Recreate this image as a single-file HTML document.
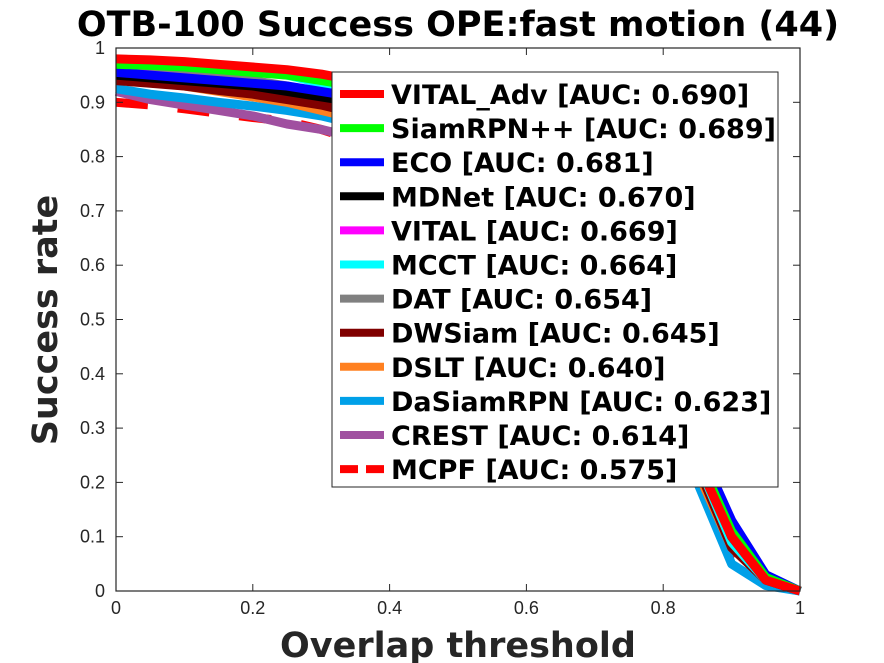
<!DOCTYPE html>
<html><head><meta charset="utf-8"><style>
body{margin:0;background:#fff;}
svg{display:block;font-family:"Liberation Sans","DejaVu Sans",sans-serif;}
</style></head><body>
<svg id="chart" width="884" height="663" xmlns="http://www.w3.org/2000/svg">
<rect width="884" height="663" fill="#fff"/>
<text x="458" y="36" text-anchor="middle" font-size="35" font-weight="bold" fill="#000" font-family="DejaVu Sans, sans-serif">OTB-100 Success OPE:fast motion (44)</text>
<g id="plot"></g>
<text x="458" y="657" text-anchor="middle" font-size="35" font-weight="bold" fill="#262626" font-family="DejaVu Sans, sans-serif">Overlap threshold</text>
<text transform="translate(57,320) rotate(-90)" text-anchor="middle" font-size="35" font-weight="bold" fill="#262626" font-family="DejaVu Sans, sans-serif">Success rate</text>
</svg>
<script>
const thresholds=[0,.05,.1,.15,.2,.25,.3,.35,.4,.45,.5,.55,.6,.65,.7,.75,.8,.85,.9,.95,1];
const seriesNames=["VITAL_Adv [AUC: 0.690]","SiamRPN++ [AUC: 0.689]","ECO [AUC: 0.681]","MDNet [AUC: 0.670]","VITAL [AUC: 0.669]","MCCT [AUC: 0.664]","DAT [AUC: 0.654]","DWSiam [AUC: 0.645]","DSLT [AUC: 0.640]","DaSiamRPN [AUC: 0.623]","CREST [AUC: 0.614]","MCPF [AUC: 0.575]"];
const seriesColors=["#ff0000","#00ff00","#0000ff","#000000","#ff00ff","#00ffff","#808080","#800000","#ff8020","#00a0e8","#a050a0","#ff0000"];
const vitalAdv=[.98,.978,.975,.97,.965,.96,.952,.94,.93,.915,.895,.87,.83,.78,.70,.58,.42,.24,.10,.02,0];
const siamrpnpp=[.97,.968,.965,.96,.955,.95,.94,.93,.915,.9,.88,.85,.81,.76,.68,.57,.42,.25,.11,.025,0];
const eco=[.955,.95,.945,.94,.935,.93,.92,.91,.9,.885,.865,.84,.80,.75,.68,.57,.43,.27,.13,.03,0];
const mdnet=[.95,.945,.94,.935,.93,.92,.91,.9,.885,.87,.85,.82,.78,.73,.66,.55,.41,.25,.10,.02,0];
const vital=[.955,.95,.945,.94,.933,.925,.915,.905,.89,.87,.85,.82,.78,.73,.66,.55,.41,.25,.10,.02,0];
const mcct=[.975,.972,.968,.963,.957,.95,.935,.92,.905,.89,.87,.84,.80,.75,.67,.56,.41,.24,.09,.02,0];
const dat=[.965,.96,.955,.948,.94,.93,.915,.90,.885,.87,.85,.82,.78,.72,.65,.54,.40,.24,.09,.02,0];
const dwsiam=[.94,.935,.93,.922,.915,.905,.895,.88,.865,.85,.83,.80,.76,.71,.64,.53,.39,.23,.08,.02,0];
const dslt=[.945,.937,.93,.92,.91,.9,.885,.87,.855,.84,.82,.79,.75,.70,.63,.52,.38,.22,.08,.02,0];
const dasiam=[.925,.915,.908,.9,.893,.885,.875,.86,.845,.83,.81,.78,.74,.69,.61,.50,.36,.20,.05,.01,0];
const crest=[.92,.905,.895,.885,.875,.86,.85,.835,.82,.80,.78,.75,.71,.66,.59,.49,.36,.21,.08,.02,0];
const mcpf=[.90,.895,.888,.88,.872,.865,.85,.83,.81,.79,.77,.74,.70,.65,.58,.47,.34,.20,.07,.015,0];
const xTicks=[0,0.2,0.4,0.6,0.8,1];
const xTickLabels=["0","0.2","0.4","0.6","0.8","1"];
const yTicks=[0,0.1,0.2,0.3,0.4,0.5,0.6,0.7,0.8,0.9,1];
const yTickLabels=["0","0.1","0.2","0.3","0.4","0.5","0.6","0.7","0.8","0.9","1"];
const allSeries=[vitalAdv,siamrpnpp,eco,mdnet,vital,mcct,dat,dwsiam,dslt,dasiam,crest,mcpf];

const L=116,R=800,T=48,B=591;
const xs=v=>L+v*(R-L);
const ys=v=>B-v*(B-T);
const NS="http://www.w3.org/2000/svg";
const g=document.getElementById('plot');
function mk(tag,attrs){const e=document.createElementNS(NS,tag);for(const k in attrs)e.setAttribute(k,attrs[k]);g.appendChild(e);return e;}

for(let i=allSeries.length-1;i>=0;i--){
  const d=allSeries[i].map((v,j)=>(j?'L':'M')+xs(thresholds[j]).toFixed(1)+' '+ys(v).toFixed(1)).join(' ');
  const p=mk('path',{d:d,fill:'none',stroke:seriesColors[i],'stroke-width':9,'stroke-linejoin':'round'});
  if(i===11)p.setAttribute('stroke-dasharray','32 30');
  
  
}
const fr=mk('rect',{x:L,y:T,width:R-L,height:B-T,fill:'none',stroke:'#262626','stroke-width':1.2});


xTicks.forEach((v,i)=>{
  mk('line',{x1:xs(v),x2:xs(v),y1:B,y2:B-7,stroke:'#262626'});
  mk('line',{x1:xs(v),x2:xs(v),y1:T,y2:T+7,stroke:'#262626'});
  const t=mk('text',{x:xs(v),y:B+23,'text-anchor':'middle','font-size':18,fill:'#262626'});
  t.textContent=xTickLabels[i];
  
  
});
yTicks.forEach((v,i)=>{
  mk('line',{x1:L,x2:L+7,y1:ys(v),y2:ys(v),stroke:'#262626'});
  mk('line',{x1:R,x2:R-7,y1:ys(v),y2:ys(v),stroke:'#262626'});
  const t=mk('text',{x:L-11,y:ys(v)+6,'text-anchor':'end','font-size':18,fill:'#262626'});
  t.textContent=yTickLabels[i];
  
  
});
const lg=mk('rect',{x:332,y:72,width:446,height:415,fill:'#fff',stroke:'#262626','stroke-width':1});


seriesNames.forEach((n,i)=>{
  const y=94+i*34.1;
  const l=mk('line',{x1:340,x2:384,y1:y,y2:y,stroke:seriesColors[i],'stroke-width':8});
  if(i===11)l.setAttribute('stroke-dasharray','18 8');
  
  
  const t=mk('text',{x:391,y:y+10,'font-size':27,'font-weight':'bold',fill:'#000','font-family':'DejaVu Sans, sans-serif'});
  t.textContent=n;
  
  
});
</script>
</body></html>
